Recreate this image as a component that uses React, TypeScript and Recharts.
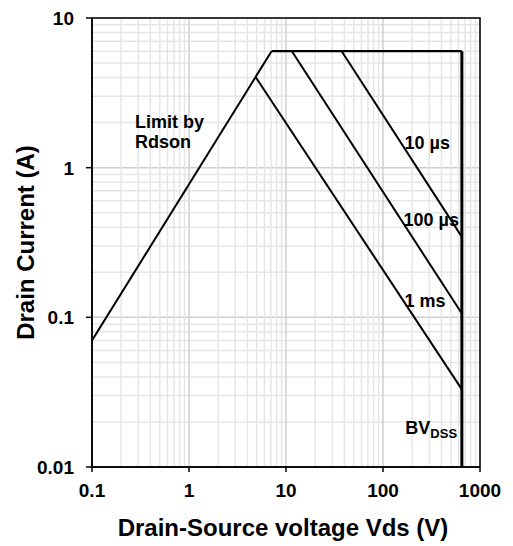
import {
  LineChart,
  Line,
  XAxis,
  YAxis,
  CartesianGrid,
  ReferenceArea,
  ReferenceDot,
} from "recharts";

// grid/tick values (log decades with minor steps)
const xDecades = [0.1, 1, 10, 100, 1000];
const yDecades = [0.01, 0.1, 1, 10];
const minorSteps = [1, 2, 3, 4, 5, 6, 7, 8, 9];

// SOA boundary segments, Vds (V) vs Id (A)
const rdsonLimit = [
  { v: 0.1, i: 0.07 },
  { v: 7.1, i: 6 },
];
const currentLimit = [
  { v: 7.1, i: 6 },
  { v: 650, i: 6 },
];
const bvdssLimit = [
  { v: 650, i: 6 },
  { v: 650, i: 0.01 },
];
const pulse10us = [
  { v: 37.5, i: 6 },
  { v: 650, i: 0.345 },
];
const pulse100us = [
  { v: 11.5, i: 6 },
  { v: 650, i: 0.106 },
];
const pulse1ms = [
  { v: 4.9, i: 4.0 },
  { v: 650, i: 0.033 },
];

const font = "'Liberation Sans', Arial, sans-serif";

const buildTicks = (decades: number[]) => {
  const out: number[] = [];
  decades.forEach((d, idx) => {
    if (idx === decades.length - 1) {
      out.push(d);
      return;
    }
    minorSteps.forEach((m) => out.push(+(d * m).toPrecision(3)));
  });
  return out;
};

const xTicks = buildTicks(xDecades);
const yTicks = buildTicks(yDecades);

const isDecade = (v: number) => Math.abs(Math.log10(v) - Math.round(Math.log10(v))) < 1e-6;

const XTick = (props: any) => {
  const { x, y, payload } = props;
  if (!isDecade(payload.value)) return <g />;
  return (
    <g>
      <line x1={x} x2={x} y1={y} y2={y + 5} stroke="#000" strokeWidth={1.5} />
      <text x={x} y={y + 30} textAnchor="middle" fontFamily={font} fontWeight="bold" fontSize={19} fill="#000">
        {String(payload.value)}
      </text>
    </g>
  );
};

const YTick = (props: any) => {
  const { x, y, payload } = props;
  if (!isDecade(payload.value)) return <g />;
  return (
    <g>
      <line x1={x - 6} x2={x} y1={y} y2={y} stroke="#000" strokeWidth={1.5} />
      <text x={x - 18} y={y + 7} textAnchor="end" fontFamily={font} fontWeight="bold" fontSize={19} fill="#000">
        {String(payload.value)}
      </text>
    </g>
  );
};

const gridLine = (ticks: number[], dir: "h" | "v") => (props: any) => {
  const { x1, x2, y1, y2, index } = props;
  const v = ticks[index];
  const major = v !== undefined && isDecade(v);
  return (
    <line
      key={`${dir}-${index}`}
      x1={x1}
      x2={x2}
      y1={y1}
      y2={y2}
      stroke={major ? "#cfcfcf" : "#e6e6e6"}
      strokeWidth={1.5}
    />
  );
};

const textLabel =
  (lines: string[], sub?: string) =>
  (props: any) => {
    const { viewBox } = props;
    const x = viewBox.x;
    const y = viewBox.y;
    return (
      <text x={x} y={y} fontFamily={font} fontWeight="bold" fontSize={18} fill="#000">
        {lines.map((t, k) => (
          <tspan key={k} x={x} dy={k === 0 ? 0 : 20}>
            {t}
          </tspan>
        ))}
        {sub ? (
          <tspan fontSize={13} dy={4}>
            {sub}
          </tspan>
        ) : null}
      </text>
    );
  };

export default function App() {
  return (
    <div style={{ position: "absolute", left: 0, top: 0, background: "#fff" }}>
      <LineChart width={513} height={546} margin={{ top: 18, right: 33, bottom: 0, left: 0 }}>
        <CartesianGrid
          horizontal={gridLine(yTicks, "h")}
          vertical={gridLine(xTicks, "v")}
        />
        <XAxis
          type="number"
          dataKey="v"
          scale="log"
          domain={[0.1, 1000]}
          ticks={xTicks}
          allowDataOverflow
          height={79}
          tickLine={false}
          tickSize={0}
          tickMargin={0}
          axisLine={{ stroke: "#000", strokeWidth: 1.5 }}
          tick={<XTick />}
          interval={0}
          label={{
            content: (p: any) => {
              const vb = p.viewBox;
              return (
                <text
                  x={vb.x + vb.width / 2 - 3}
                  y={vb.y + 69}
                  textAnchor="middle"
                  fontFamily={font}
                  fontWeight="bold"
                  fontSize={24}
                  fill="#000"
                >
                  Drain-Source voltage Vds (V)
                </text>
              );
            },
          }}
        />
        <YAxis
          type="number"
          dataKey="i"
          scale="log"
          domain={[0.01, 10]}
          ticks={yTicks}
          allowDataOverflow
          width={92}
          tickLine={false}
          tickSize={0}
          tickMargin={0}
          axisLine={{ stroke: "#000", strokeWidth: 1.5 }}
          tick={<YTick />}
          interval={0}
          label={{
            content: (p: any) => {
              const vb = p.viewBox;
              const cx = vb.x + 25;
              const cy = vb.y + vb.height / 2;
              return (
                <text
                  x={cx}
                  y={cy}
                  transform={`rotate(-90, ${cx}, ${cy})`}
                  textAnchor="middle"
                  dominantBaseline="central"
                  fontFamily={font}
                  fontWeight="bold"
                  fontSize={24}
                  fill="#000"
                >
                  Drain Current (A)
                </text>
              );
            },
          }}
        />
        <ReferenceArea x1={0.1} x2={1000} y1={0.01} y2={10} fill="none" stroke="#000" strokeWidth={1.5} ifOverflow="visible" />
        <Line data={rdsonLimit} dataKey="i" stroke="#000" strokeWidth={2} dot={false} isAnimationActive={false} />
        <Line data={currentLimit} dataKey="i" stroke="#000" strokeWidth={2.2} dot={false} isAnimationActive={false} />
        <Line data={bvdssLimit} dataKey="i" stroke="#000" strokeWidth={3} dot={false} isAnimationActive={false} />
        <Line data={pulse10us} dataKey="i" stroke="#000" strokeWidth={2} dot={false} isAnimationActive={false} />
        <Line data={pulse100us} dataKey="i" stroke="#000" strokeWidth={2} dot={false} isAnimationActive={false} />
        <Line data={pulse1ms} dataKey="i" stroke="#000" strokeWidth={2} dot={false} isAnimationActive={false} />
        <ReferenceDot x={0.277} y={1.84} r={0} fill="none" stroke="none" label={textLabel(["Limit by", "Rdson"])} />
        <ReferenceDot x={167} y={1.34} r={0} fill="none" stroke="none" label={textLabel(["10 µs"])} />
        <ReferenceDot x={163} y={0.405} r={0} fill="none" stroke="none" label={textLabel(["100 µs"])} />
        <ReferenceDot x={167} y={0.117} r={0} fill="none" stroke="none" label={textLabel(["1 ms"])} />
        <ReferenceDot x={170} y={0.0166} r={0} fill="none" stroke="none" label={textLabel(["BV"], "DSS")} />
      </LineChart>
    </div>
  );
}
